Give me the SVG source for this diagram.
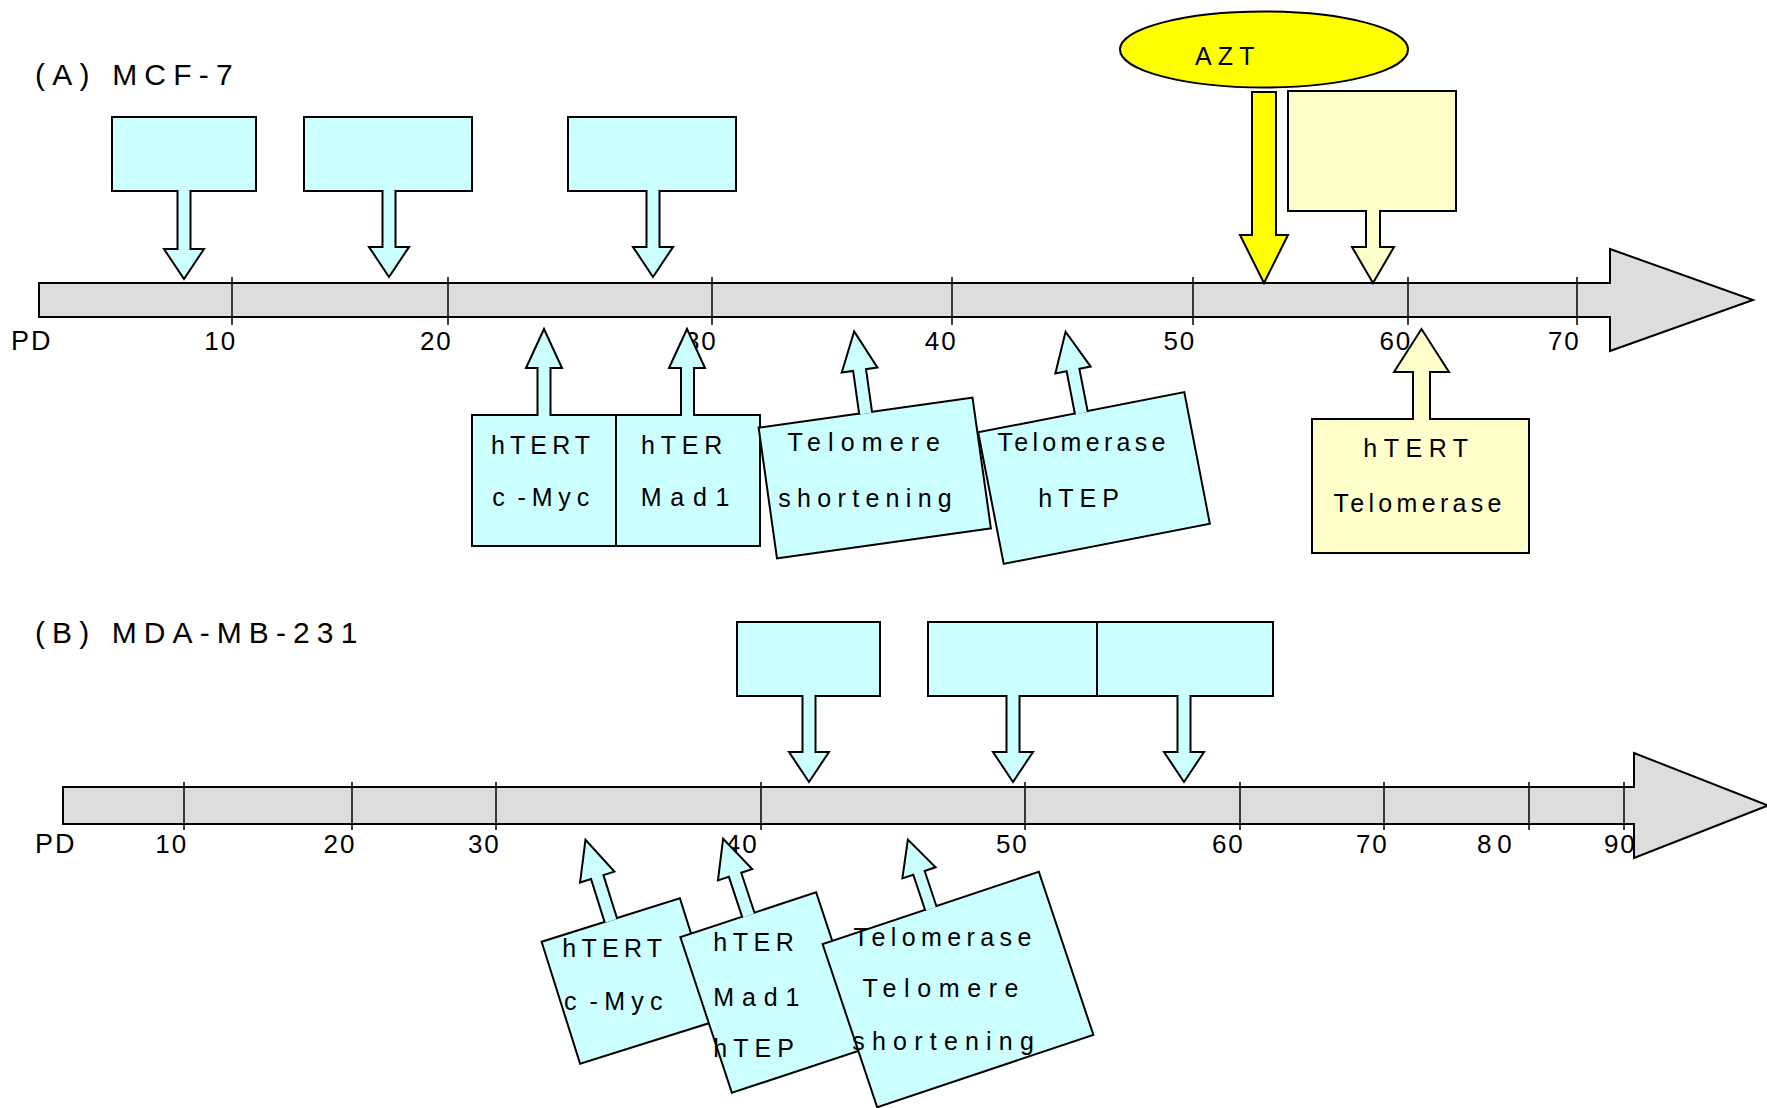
<svg xmlns="http://www.w3.org/2000/svg" width="1767" height="1108" viewBox="0 0 1767 1108">
<style>
text{font-family:"Liberation Sans",Arial,sans-serif;font-size:25px;fill:#000}
.title{font-size:30px;letter-spacing:7.2px}
.cy{fill:#CCFFFF;stroke:#000;stroke-width:2}
.ly{fill:#FFFFCC;stroke:#000;stroke-width:2}
.yl{fill:#FFFF00;stroke:#000;stroke-width:2}
.bar{fill:#DDDDDD;stroke:#000;stroke-width:2;stroke-linejoin:miter}
.tick{stroke:#000;stroke-width:1.5}
.lbl text{font-size:26px;letter-spacing:2px}
.arr{stroke-linejoin:miter}
</style>
<rect width="1767" height="1108" fill="#fff"/>

<g id="title-a"><text class="title" x="35" y="85">(A) MCF-7</text></g>
<g id="title-b"><text class="title" x="35" y="643" style="letter-spacing:7.1px">(B) MDA-MB-231</text></g>

<g id="axis-a">
<path class="bar" d="M39,283 H1610 V249 L1753,300 L1610,351 V317 H39 Z"/>
<g class="tick">
<line x1="232" y1="277" x2="232" y2="325"/><line x1="448" y1="277" x2="448" y2="325"/>
<line x1="712" y1="277" x2="712" y2="325"/><line x1="952" y1="277" x2="952" y2="325"/>
<line x1="1193" y1="277" x2="1193" y2="325"/><line x1="1408" y1="277" x2="1408" y2="325"/>
<line x1="1577" y1="277" x2="1577" y2="325"/>
</g>
<g class="lbl">
<text x="11" y="350" style="font-size:27px">PD</text>
<text x="204.2" y="350">10</text><text x="419.9" y="350">20</text><text x="684.9" y="350">30</text>
<text x="924.8" y="350">40</text><text x="1163.4" y="350">50</text><text x="1379.4" y="350">60</text>
<text x="1547.9" y="350">70</text>
</g>
</g>

<g id="axis-b">
<path class="bar" d="M63,787 H1634 V753 L1768,805.5 L1634,858 V824 H63 Z"/>
<g class="tick">
<line x1="184" y1="782" x2="184" y2="830"/><line x1="352" y1="782" x2="352" y2="830"/>
<line x1="496" y1="782" x2="496" y2="830"/><line x1="761" y1="782" x2="761" y2="830"/>
<line x1="1025" y1="782" x2="1025" y2="830"/><line x1="1240" y1="782" x2="1240" y2="830"/>
<line x1="1384" y1="782" x2="1384" y2="830"/><line x1="1529" y1="782" x2="1529" y2="830"/>
<line x1="1624" y1="782" x2="1624" y2="830"/>
</g>
<g class="lbl">
<text x="35" y="853" style="font-size:27px">PD</text>
<text x="155.2" y="853">10</text><text x="323.5" y="853">20</text><text x="467.9" y="853">30</text>
<text x="725.8" y="853">40</text><text x="995.9" y="853">50</text><text x="1211.9" y="853">60</text>
<text x="1355.9" y="853">70</text><text x="1476.9" y="853" style="letter-spacing:6px">80</text>
<text x="1603.9" y="853">90</text>
</g>
</g>

<!-- Panel A top callouts -->
<g id="a-top-1"><rect class="cy" x="112" y="117" width="144" height="74"/></g>
<g id="a-top-2"><rect class="cy" x="304" y="117" width="168" height="74"/></g>
<g id="a-top-3"><rect class="cy" x="568" y="117" width="168" height="74"/></g>
<g id="azt"><ellipse class="yl" cx="1264" cy="49.5" rx="144" ry="38"/><text x="1195" y="65" style="letter-spacing:6.1px">AZT</text></g>
<g id="a-top-yellow"><rect class="ly" x="1288" y="91" width="168" height="120"/></g>

<!-- Panel A bottom callouts -->
<g id="a-htert"><rect class="cy" x="472" y="415" width="144" height="131"/>
<text x="491" y="454" style="letter-spacing:5.1px">hTERT</text>
<text x="492.3" y="506" style="letter-spacing:5.9px">c<tspan dx="6.7">-</tspan>Myc</text></g>
<g id="a-hter"><rect class="cy" x="616" y="415" width="144" height="131"/>
<text x="641" y="454" style="letter-spacing:5.8px">hTER</text>
<text x="640.8" y="506" style="letter-spacing:8.7px">Mad1</text></g>
<g id="a-telomere"><rect class="cy" x="766.75" y="412" width="216" height="132" transform="rotate(-8 874.75 478)"/>
<text x="787.5" y="451" style="letter-spacing:7.1px">Telomere</text>
<text x="778.3" y="507" style="letter-spacing:6.3px">shortening</text></g>
<g id="a-telomerase"><rect class="cy" x="989" y="411" width="210" height="134" transform="rotate(-11 1094 478)"/>
<text x="997.5" y="451" style="letter-spacing:4.3px">Telomerase</text>
<text x="1038.3" y="507" style="letter-spacing:6px">hTEP</text></g>
<g id="a-bottom-yellow"><rect class="ly" x="1312" y="419" width="217" height="134"/>
<text x="1363.3" y="457" style="letter-spacing:6.5px">hTERT</text>
<text x="1333.5" y="512" style="letter-spacing:4.3px">Telomerase</text></g>

<!-- Panel B top callouts -->
<g id="b-top-1"><rect class="cy" x="737" y="622" width="143" height="74"/></g>
<g id="b-top-2"><rect class="cy" x="928" y="622" width="169" height="74"/></g>
<g id="b-top-3"><rect class="cy" x="1097" y="622" width="176" height="74"/></g>

<!-- Panel B bottom callouts -->
<g id="b-htert"><rect class="cy" x="557.5" y="917" width="145" height="128" transform="rotate(-17.5 630 981)"/>
<text x="562.3" y="957" style="letter-spacing:5.25px">hTERT</text>
<text x="564" y="1010" style="letter-spacing:6.3px">c<tspan dx="6.7">-</tspan>Myc</text></g>
<g id="b-hter"><rect class="cy" x="702.5" y="910.5" width="143" height="164" transform="rotate(-18.3 774 992.5)"/>
<text x="713.3" y="951" style="letter-spacing:5.5px">hTER</text>
<text x="713.2" y="1006" style="letter-spacing:7.9px">Mad1</text>
<text x="713.3" y="1057" style="letter-spacing:6px">hTEP</text></g>
<g id="b-telomerase"><rect class="cy" x="844" y="903.5" width="228" height="172" transform="rotate(-18.5 958 989.5)"/>
<text x="853.5" y="946" style="letter-spacing:5.4px">Telomerase</text>
<text x="862.5" y="997" style="letter-spacing:7.6px">Telomere</text>
<text x="852.3" y="1050" style="letter-spacing:7.2px">shortening</text></g>

<g id="connectors" class="arr">
<path class="cy" d="M177.5,190 V249 H164 L184,279 L204,249 H190.5 V190"/>
<path class="cy" d="M382.5,190 V247 H369 L389,277 L409,247 H395.5 V190"/>
<path class="cy" d="M646.5,190 V247 H633 L653,277 L673,247 H659.5 V190"/>
<path class="yl" d="M1252,92 H1276 V235 H1288 L1264,283 L1240,235 H1252 Z"/>
<path class="ly" d="M1366,210 V247 H1352 L1373,283 L1394,247 H1380 V210"/>
<path class="cy" d="M537.5,416 V368 H526 L544,329 L562,368 H550.5 V416"/>
<path class="cy" d="M681,416 V368 H669 L687,329 L705,368 H694 V416"/>
<path class="cy" transform="rotate(-8 874.75 478)" d="M868.25,413 V369 H856.75 L874.75,330 L892.75,369 H881.25 V413"/>
<path class="cy" transform="rotate(-11 1094 478)" d="M1087.5,412 V368 H1076 L1094,329 L1112,368 H1100.5 V412"/>
<path class="ly" d="M1413,420 V372 H1394 L1421.5,329 L1449,372 H1430 V420"/>
<path class="cy" d="M802.5,695 V752 H789 L809,782 L829,752 H815.5 V695"/>
<path class="cy" d="M1006.5,695 V752 H993 L1013,782 L1033,752 H1019.5 V695"/>
<path class="cy" d="M1177.5,695 V752 H1164 L1184,782 L1204,752 H1190.5 V695"/>
<path class="cy" transform="rotate(-17.5 630 981)" d="M623.5,918 V872 H612 L630,833 L648,872 H636.5 V918"/>
<path class="cy" transform="rotate(-18.3 774 992.5)" d="M767.5,911.5 V868.5 H756 L774,830.5 L792,868.5 H780.5 V911.5"/>
<path class="cy" transform="rotate(-18.5 958 989.5)" d="M952,904.5 V866.5 H940.5 L958,831.5 L975.5,866.5 H964 V904.5"/>
</g>
</svg>
